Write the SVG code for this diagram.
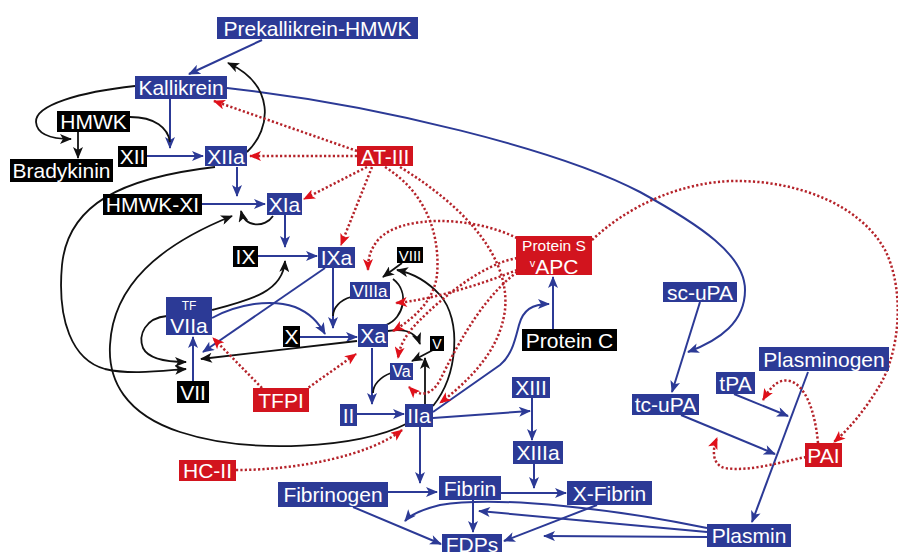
<svg xmlns="http://www.w3.org/2000/svg" width="898" height="552" viewBox="0 0 898 552">
<style>
.bl{fill:#2c3a96}.bk{fill:#000}.rd{fill:#d2141e}
text{fill:#fff;font-family:"Liberation Sans",Arial,sans-serif;font-size:21px;text-anchor:middle}
.cb{fill:none;stroke:#2c3a96;stroke-width:2}
.ck{fill:none;stroke:#111;stroke-width:1.8}
.cr{fill:none;stroke:#b5232a;stroke-width:2.5;stroke-dasharray:2.2 2.2}
.cb.a{marker-end:url(#ab)}.ck.a{marker-end:url(#ak)}.cr.a{marker-end:url(#ar)}
</style>
<defs>
<marker id="ab" viewBox="0 0 12 10" refX="11" refY="5" markerWidth="13" markerHeight="10" markerUnits="userSpaceOnUse" orient="auto"><path d="M0,0 L12,5 L0,10 L3,5 z" fill="#2c3a96"/></marker>
<marker id="ak" viewBox="0 0 12 10" refX="11" refY="5" markerWidth="13" markerHeight="10" markerUnits="userSpaceOnUse" orient="auto"><path d="M0,0 L12,5 L0,10 L3,5 z" fill="#111"/></marker>
<marker id="ar" viewBox="0 0 12 10" refX="11" refY="5" markerWidth="13" markerHeight="10" markerUnits="userSpaceOnUse" orient="auto"><path d="M0,0 L12,5 L0,10 L3,5 z" fill="#e0101a"/></marker>
</defs>
<rect width="898" height="552" fill="#fff"/>
<g id="connectors">
<!-- blue -->
<path class="cb a" d="M262,40 L189,74"/>
<path class="cb a" d="M170,99 L170,148"/>
<path class="cb a" d="M147,156 L203,156"/>
<path class="cb a" d="M237,167 L237,196"/>
<path class="cb a" d="M202,204 L265,204"/>
<path class="cb a" d="M285,215 L285,247"/>
<path class="cb a" d="M258,256 L317,256"/>
<path class="cb a" d="M333,268 L333,328"/>
<path class="cb a" d="M325,268 L203,352"/>
<path class="cb a" d="M212,318 C235,305 270,298 295,307 C310,313 318,322 325,334"/>
<path class="cb a" d="M300,337 L357,337"/>
<path class="cb a" d="M372,348 L372,404"/>
<path class="cb a" d="M357,414 L404,414"/>
<path class="cb a" d="M193,381 L193,337"/>
<path class="cb a" d="M433,418 L530,411"/>
<path class="cb a" d="M532,398 L532,440"/>
<path class="cb a" d="M433,412 L500,365 C512,355 515,340 519,325 C523,310 532,304 549,304"/>
<path class="cb a" d="M553,329 L553,277"/>
<path class="cb a" d="M420,427 L420,483"/>
<path class="cb a" d="M388,492 L437,492"/>
<path class="cb a" d="M534,464 L534,488"/>
<path class="cb a" d="M501,493 L566,493"/>
<path class="cb a" d="M473,500 L473,532"/>
<path class="cb a" d="M353,507 L441,544"/>
<path class="cb a" d="M597,505 L504,541"/>
<path class="cb a" d="M707,528 C620,510 500,495 440,505 C420,510 410,515 405,521"/>
<path class="cb a" d="M707,532 L479,511"/>
<path class="cb a" d="M707,537 L544,536"/>
<path class="cb a" d="M808,372 L752,522"/>
<path class="cb a" d="M734,394 L788,416"/>
<path class="cb a" d="M681,415 L775,454"/>
<path class="cb a" d="M700,302 L672,392"/>
<path class="cb a" d="M227,88 C380,105 560,150 640,192 C700,225 745,255 745,290 C745,322 720,340 688,352"/>
<!-- black -->
<path class="ck a" d="M135,86 C80,92 35,105 36,122 C37,136 55,139 71,139"/>
<path class="ck a" d="M78,131 L78,158"/>
<path class="ck" d="M130,117 C155,117 168,128 170,142"/>
<path class="ck a" d="M247,152 C272,128 275,85 228,63"/>
<path class="ck a" d="M215,167 C120,178 68,205 62,265 C57,320 72,360 105,369 C130,375 160,371 186,369"/>
<path class="ck a" d="M406,424 C360,448 250,455 180,432 C125,414 108,380 110,345 C113,285 160,245 232,216"/>
<path class="ck a" d="M167,316 C145,318 138,335 143,348 C148,358 165,362 186,362"/>
<path class="ck a" d="M357,341 L201,359"/>
<path class="ck a" d="M212,310 C250,300 283,292 285,261"/>
<path class="ck a" d="M273,216 C265,228 245,228 241,211"/>
<path class="ck a" d="M402,263 L383,277"/>
<path class="ck" d="M386,325 C404,318 410,292 393,279"/>
<path class="ck a" d="M433,406 C458,375 462,320 440,295 C428,282 412,273 397,270"/>
<path class="ck a" d="M425,404 L425,358"/>
<path class="ck a" d="M433,350 L412,361"/>
<path class="ck a" d="M388,331 C405,328 416,333 420,344"/>
<path class="ck" d="M351,297 C340,300 333,308 333,316"/>
<path class="ck" d="M391,373 C380,377 373,385 373,393"/>
<!-- red -->
<path class="cr a" d="M357,156 L250,156"/>
<path class="cr a" d="M357,151 L214,101"/>
<path class="cr a" d="M367,167 L304,199"/>
<path class="cr a" d="M372,167 L341,245"/>
<path class="cr a" d="M385,167 C430,195 440,240 437,275 C434,300 415,318 393,331"/>
<path class="cr a" d="M400,167 C470,210 510,260 505,310 C500,350 470,380 440,403"/>
<path class="cr a" d="M517,238 C470,215 400,215 378,240 C370,250 368,258 368,270"/>
<path class="cr a" d="M517,270 C480,285 430,300 396,303"/>
<path class="cr a" d="M517,258 C480,265 440,300 420,320 C405,335 400,345 398,358"/>
<path class="cr a" d="M517,272 C480,300 455,350 440,380 C432,395 420,398 409,387"/>
<path class="cr a" d="M262,388 L213,338"/>
<path class="cr a" d="M305,390 L356,354"/>
<path class="cr a" d="M236,470 C300,470 370,455 402,430"/>
<path class="cr a" d="M592,240 C640,195 700,180 740,181 C800,182 860,205 885,250 C905,290 900,350 880,385 C865,410 850,428 834,442"/>
<path class="cr a" d="M818,443 C815,410 805,385 790,381 C778,378 770,388 763,400"/>
<path class="cr a" d="M806,457 C780,462 750,472 725,468 C712,465 712,450 717,438"/>
</g>
<g id="prekal"><rect class="bl" x="217" y="17" width="201" height="22"/><text x="317.5" y="35.5">Prekallikrein-HMWK</text></g>
<g id="kallikrein"><rect class="bl" x="135" y="76" width="92" height="23"/><text x="181" y="95">Kallikrein</text></g>
<g id="hmwk"><rect class="bk" x="57" y="111" width="73" height="21"/><text x="93.5" y="129">HMWK</text></g>
<g id="xii"><rect class="bk" x="118" y="146" width="29" height="21"/><text x="132.5" y="164">XII</text></g>
<g id="xiia"><rect class="bl" x="205" y="146" width="42" height="20"/><text x="226" y="163.5">XIIa</text></g>
<g id="bradykinin"><rect class="bk" x="10" y="159" width="103" height="23"/><text x="61.5" y="178">Bradykinin</text></g>
<g id="atiii"><rect class="rd" x="357" y="146" width="56" height="20"/><text x="385" y="163.5">AT-III</text></g>
<g id="hmwkxi"><rect class="bk" x="103" y="194" width="99" height="21"/><text x="152.5" y="212">HMWK-XI</text></g>
<g id="xia"><rect class="bl" x="267" y="193" width="35" height="22"/><text x="284.5" y="211.5">XIa</text></g>
<g id="ix"><rect class="bk" x="233" y="246" width="25" height="21"/><text x="245.5" y="264">IX</text></g>
<g id="ixa"><rect class="bl" x="318" y="247" width="37" height="21"/><text x="336.5" y="265">IXa</text></g>
<g id="viii"><rect class="bk" x="397" y="247" width="26" height="16"/><text x="410" y="260.5" style="font-size:15px">VIII</text></g>
<g id="proteins"><rect class="rd" x="516" y="236" width="76" height="39"/><text x="554" y="251" style="font-size:15.5px">Protein S</text><text x="554" y="273.5" style="font-size:21px"><tspan style="font-size:11px" dy="-7">v</tspan><tspan dy="7">APC</tspan></text></g>
<g id="viiia"><rect class="bl" x="350" y="282" width="40" height="17"/><text x="370" y="296.5" style="font-size:17px">VIIIa</text></g>
<g id="tfviia"><rect class="bl" x="166" y="297" width="46" height="38"/><text x="189" y="310" style="font-size:12px">TF</text><text x="189" y="333" style="font-size:21px">VIIa</text></g>
<g id="x"><rect class="bk" x="283" y="326" width="17" height="21"/><text x="291.5" y="344">X</text></g>
<g id="xa"><rect class="bl" x="358" y="324" width="30" height="23"/><text x="373" y="343">Xa</text></g>
<g id="v"><rect class="bk" x="430" y="336" width="14" height="15"/><text x="437" y="348.5" style="font-size:14px">V</text></g>
<g id="proteinc"><rect class="bk" x="522" y="329" width="95" height="22"/><text x="569.5" y="347.5">Protein C</text></g>
<g id="scupa"><rect class="bl" x="663" y="282" width="74" height="20"/><text x="700" y="299.5">sc-uPA</text></g>
<g id="plasminogen"><rect class="bl" x="759" y="347" width="130" height="24"/><text x="824" y="366.5">Plasminogen</text></g>
<g id="vii"><rect class="bk" x="177" y="381" width="32" height="22"/><text x="193" y="399.5">VII</text></g>
<g id="va"><rect class="bl" x="390" y="363" width="23" height="17"/><text x="401.5" y="377" style="font-size:16px">Va</text></g>
<g id="tfpi"><rect class="rd" x="253" y="388" width="56" height="24"/><text x="281" y="407.5">TFPI</text></g>
<g id="xiii"><rect class="bl" x="512" y="377" width="38" height="21"/><text x="531" y="395">XIII</text></g>
<g id="tpa"><rect class="bl" x="716" y="372" width="39" height="22"/><text x="735.5" y="390.5">tPA</text></g>
<g id="tcupa"><rect class="bl" x="632" y="394" width="67" height="21"/><text x="665.5" y="412">tc-uPA</text></g>
<g id="ii"><rect class="bl" x="340" y="404" width="17" height="22"/><text x="348.5" y="422.5">II</text></g>
<g id="iia"><rect class="bl" x="405" y="404" width="28" height="23"/><text x="419" y="423">IIa</text></g>
<g id="xiiia"><rect class="bl" x="513" y="441" width="50" height="23"/><text x="538" y="460">XIIIa</text></g>
<g id="pai"><rect class="rd" x="805" y="443" width="37" height="24"/><text x="823.5" y="462.5">PAI</text></g>
<g id="hcii"><rect class="rd" x="179" y="460" width="57" height="21"/><text x="207.5" y="478">HC-II</text></g>
<g id="fibrinogen"><rect class="bl" x="278" y="482" width="110" height="25"/><text x="333" y="502">Fibrinogen</text></g>
<g id="fibrin"><rect class="bl" x="439" y="476" width="62" height="24"/><text x="470" y="495.5">Fibrin</text></g>
<g id="xfibrin"><rect class="bl" x="567" y="481" width="85" height="24"/><text x="609.5" y="500.5">X-Fibrin</text></g>
<g id="plasmin"><rect class="bl" x="707" y="524" width="84" height="23"/><text x="749" y="543">Plasmin</text></g>
<g id="fdps"><rect class="bl" x="442" y="534" width="60" height="22"/><text x="472" y="552">FDPs</text></g>
</svg>
